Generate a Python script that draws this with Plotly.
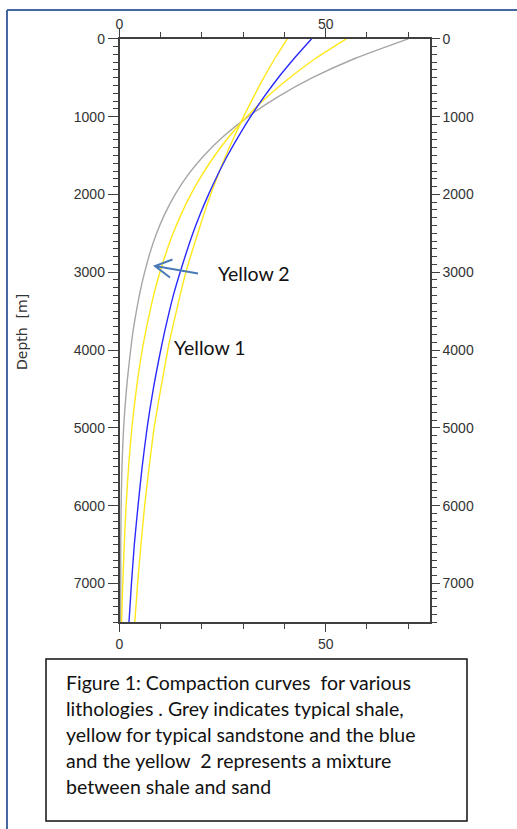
import plotly.graph_objects as go

W, H = 517, 829

# ---- data ----
depth_m = [0, 250, 500, 750, 1000, 1250, 1500, 1750, 2000, 2250, 2500, 2750,
           3000, 3250, 3500, 3750, 4000, 4500, 5000, 5500, 6000, 6500, 7000, 7500]
shale_grey = [70, 57.2, 46.8, 38.3, 31.2, 25.3, 20.5, 16.6, 13.5, 11.0, 9.0, 7.4,
              6.1, 5.0, 4.1, 3.3, 2.7, 1.7, 1.0, 0.6, 0.4, 0.3, 0.3, 0.3]
yellow_2 = [55, 47.6, 41.3, 35.7, 30.9, 26.7, 23.1, 20.0, 17.3, 15.0, 13.0, 11.3,
            9.8, 8.5, 7.4, 6.4, 5.5, 4.1, 3.0, 2.2, 1.6, 1.15, 0.8, 0.5]
mixture_blue = [46.6, 42.4, 38.5, 35.0, 31.8, 28.9, 26.2, 23.8, 21.6, 19.6, 17.8, 16.2,
                14.7, 13.3, 12.1, 11.0, 10.0, 8.2, 6.7, 5.5, 4.5, 3.6, 2.9, 2.3]
yellow_1 = [40.7, 37.7, 35.0, 32.5, 30.1, 27.9, 25.8, 23.9, 22.1, 20.5, 19.0, 17.5,
            16.1, 14.9, 13.8, 12.7, 11.7, 10.0, 8.4, 7.2, 6.1, 5.2, 4.4, 3.7]

x_ticks = [0, 50]
y_ticks = [0, 1000, 2000, 3000, 4000, 5000, 6000, 7000]

caption_lines = [
    "Figure 1: Compaction curves  for various",
    "lithologies . Grey indicates typical shale,",
    "yellow for typical sandstone and the blue",
    "and the yellow  2 represents a mixture",
    "between shale and sand",
]

# ---- helpers: pixel -> paper ----
def px(x):
    return x / W

def py(y):
    return 1 - y / H

plot_l, plot_r, plot_t, plot_b = 119.5, 430.0, 38.8, 622.3

fig = go.Figure()
series = [
    (shale_grey, "#a6a6a6"),
    (yellow_2, "#ffe81a"),
    (yellow_1, "#ffe81a"),
    (mixture_blue, "#2a2aff"),
]
for vals, col in series:
    fig.add_trace(go.Scatter(x=vals, y=depth_m, mode="lines",
                             line=dict(color=col, width=1.4, shape="spline",
                                       smoothing=0.6),
                             showlegend=False, hoverinfo="skip"))
# invisible trace to create the mirrored top/right axes
fig.add_trace(go.Scatter(x=shale_grey, y=depth_m, xaxis="x2", yaxis="y2",
                         mode="lines", line=dict(width=0), opacity=0,
                         showlegend=False, hoverinfo="skip"))

tickfont = dict(family="Liberation Sans", size=14, color="#333333")
axis_common = dict(showgrid=False, zeroline=False, showline=True,
                   linecolor="#404040", linewidth=1.5, ticks="outside",
                   tickcolor="#404040", tickwidth=1.3, tickfont=tickfont,
                   automargin=False, fixedrange=True)

xr = [0, 75.3]
yr = [7500, 0]
xdom = [px(plot_l), px(plot_r)]
ydom = [py(plot_b), py(plot_t)]

fig.update_layout(
    width=W, height=H, autosize=False,
    margin=dict(l=0, r=0, t=0, b=0, pad=0),
    paper_bgcolor="white", plot_bgcolor="white",
    xaxis=dict(range=xr, domain=xdom, side="bottom", anchor="y",
               tickmode="array", tickvals=x_ticks, ticklen=8,
               minor=dict(dtick=10, ticks="outside", ticklen=5,
                          tickcolor="#404040", tickwidth=1.3),
               **axis_common),
    xaxis2=dict(range=xr, domain=xdom, side="top", anchor="y", overlaying="x",
                tickmode="array", tickvals=x_ticks, ticklen=9,
                ticklabelstandoff=-7,
                minor=dict(dtick=10, ticks="outside", ticklen=5,
                           tickcolor="#404040", tickwidth=1.3),
                **axis_common),
    yaxis=dict(range=yr, domain=ydom, side="left", anchor="x",
               tickmode="array", tickvals=y_ticks, ticklen=10,
               minor=dict(dtick=100, ticks="outside", ticklen=5,
                          tickcolor="#404040", tickwidth=1.3),
               **axis_common),
    yaxis2=dict(range=yr, domain=ydom, side="right", anchor="x", overlaying="y",
                tickmode="array", tickvals=y_ticks, ticklen=8,
                minor=dict(dtick=100, ticks="outside", ticklen=5,
                           tickcolor="#404040", tickwidth=1.3),
                **axis_common),
)

annotations = []
# axis title
annotations.append(dict(x=px(22), y=py(332), xref="paper", yref="paper",
                        text="Depth  [m]", textangle=-90, showarrow=False,
                        font=dict(family="DejaVu Sans", size=14, color="#333333"),
                        xanchor="center", yanchor="middle"))
lab_font = dict(family="Lato", size=19.5, color="#111111")
annotations.append(dict(x=px(216), y=py(273), xref="paper", yref="paper",
                        text="Yellow 2", showarrow=False, font=lab_font,
                        xanchor="left", yanchor="middle"))
annotations.append(dict(x=px(172), y=py(347), xref="paper", yref="paper",
                        text="Yellow 1", showarrow=False, font=lab_font,
                        xanchor="left", yanchor="middle"))
cap_y = [682, 708, 734, 760, 786]
for line, yy in zip(caption_lines, cap_y):
    annotations.append(dict(x=px(64), y=py(yy), xref="paper", yref="paper",
                            text=line, showarrow=False, font=lab_font,
                            xanchor="left", yanchor="middle"))
fig.update_layout(annotations=annotations)

def P(x, y):
    return f"{px(x):.5f},{py(y):.5f}"

shapes = [
    # outer blue frame
    dict(type="line", xref="paper", yref="paper", x0=px(7), x1=px(530),
         y0=py(10), y1=py(10), line=dict(color="#44689f", width=2)),
    dict(type="line", xref="paper", yref="paper", x0=px(7), x1=px(7),
         y0=py(10), y1=py(850), line=dict(color="#44689f", width=2)),
    # caption box
    dict(type="rect", xref="paper", yref="paper", x0=px(46), x1=px(467),
         y0=py(659), y1=py(821), line=dict(color="#111111", width=1.5)),
    # arrow
    dict(type="path", xref="paper", yref="paper",
         path=f"M{P(198, 273.5)} L{P(155, 266)} M{P(172.5, 259.5)} L{P(155, 266)} L{P(170, 277.5)}",
         line=dict(color="#4a7ab5", width=2)),
]
fig.update_layout(shapes=shapes)

fig.write_html("out.html", config={"displayModeBar": False},
               post_script="document.body.style.margin='0';")
